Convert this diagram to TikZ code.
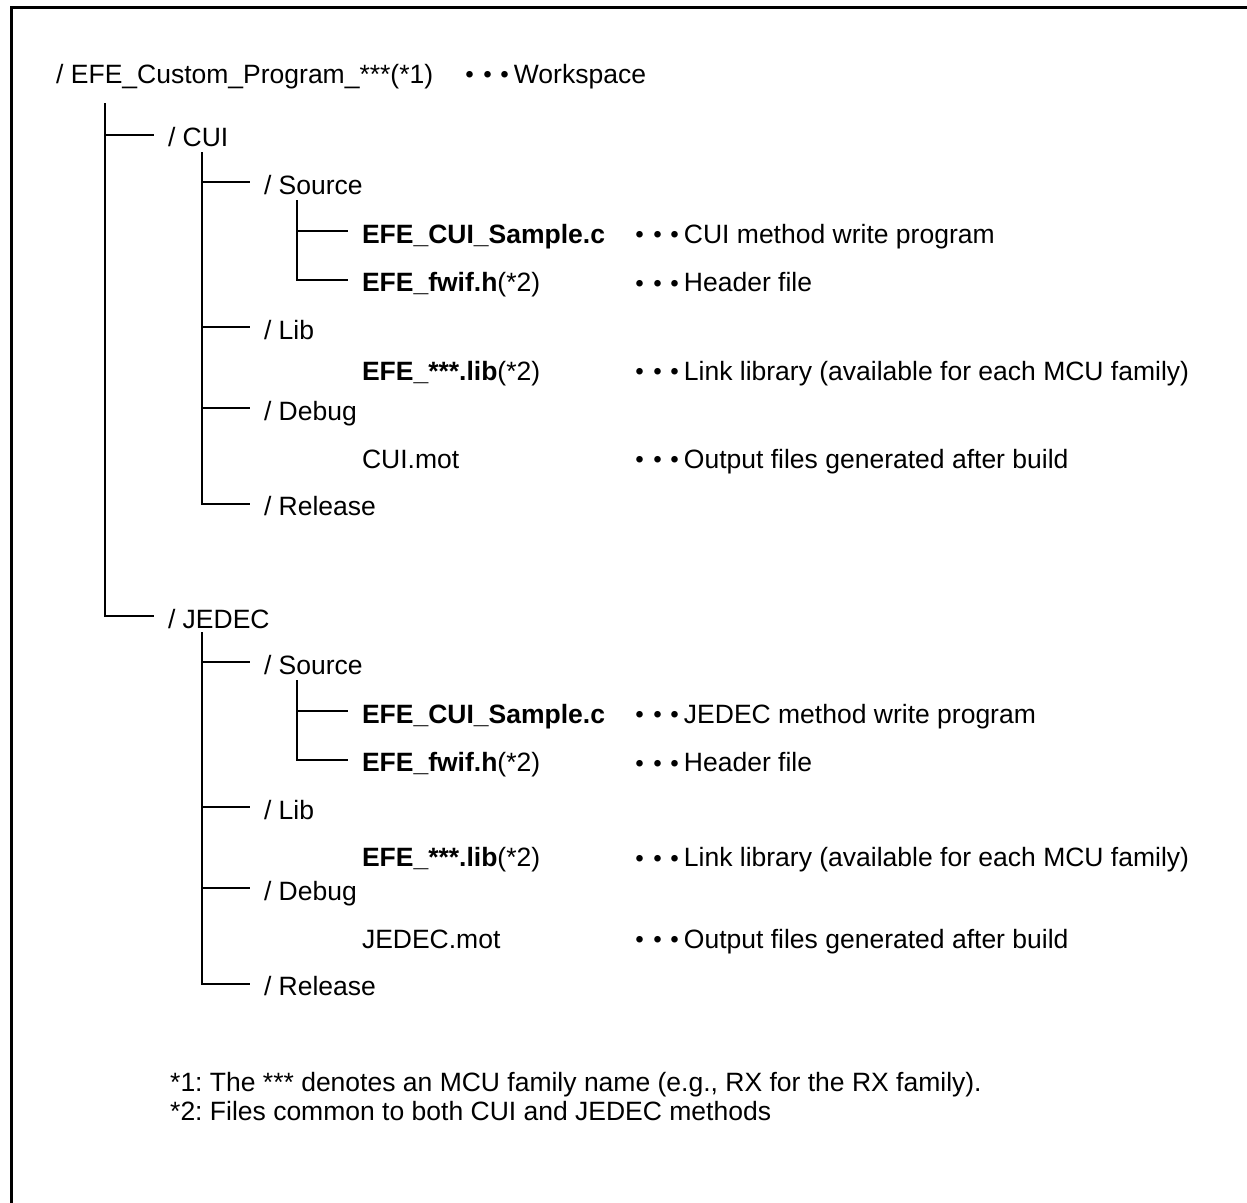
\documentclass[tikz,border=0pt]{standalone}
\usepackage{fontspec}
\setmainfont{Liberation Sans}
\newfontfamily\jpfont{Noto Sans CJK JP}
\newcommand\dotcell{\makebox[17.5pt]{\raisebox{-3.5pt}{\jpfont\fontsize{31}{31}\selectfont ・}}}
\newcommand\mydots{\dotcell\dotcell\dotcell}
\frenchspacing
\begin{document}
\begin{tikzpicture}[x=1pt,y=-1pt,
  every node/.style={font=\fontsize{26.5}{30}\selectfont, inner sep=0pt},
  item/.style={anchor=west, text height=24pt, text depth=0pt, outer xsep=14pt},
  note/.style={anchor=base west},
  tree/.style={line width=2pt},
  frame/.style={line width=3pt}]
\useasboundingbox (0,0) rectangle (1247,1202);
\fill[white] (-6,-6) rectangle (1253,1208);
\draw[frame] (11.5,1210) -- (11.5,7.5) -- (1255,7.5);

% root
\node[note] (root) at (56,83.3) {/ EFE\_Custom\_Program\_***(*1)};
\node[note] (rootd) at (461.25,83.3) {\mydots Workspace};

% CUI branch
\node[item] (cui) at (154,134.7) {/ CUI};
\node[item] (src1) at (250,182.3) {/ Source};
\node[item] (samp1) at (348,231.3) {\bfseries EFE\_CUI\_Sample.c};
\node[note] (samp1d) at (631.25,243.3) {\mydots CUI method write program};
\node[item] (fwif1) at (348,279.7) {\textbf{EFE\_fwif.h}(*2)};
\node[note] (fwif1d) at (631.25,291.7) {\mydots Header file};
\node[item] (lib1) at (250,327.3) {/ Lib};
\node[item] (libf1) at (348,368) {\textbf{EFE\_***.lib}(*2)};
\node[note] (libf1d) at (631.25,380) {\mydots Link library (available for each MCU family)};
\node[item] (dbg1) at (250,408) {/ Debug};
\node[item] (mot1) at (348,456.3) {CUI.mot};
\node[note] (mot1d) at (631.25,468.3) {\mydots Output files generated after build};
\node[item] (rel1) at (250,503.8) {/ Release};

% JEDEC branch
\node[item] (jedec) at (154,616.3) {/ JEDEC};
\node[item] (src2) at (250,662.3) {/ Source};
\node[item] (samp2) at (348,711.3) {\bfseries EFE\_CUI\_Sample.c};
\node[note] (samp2d) at (631.25,723.3) {\mydots JEDEC method write program};
\node[item] (fwif2) at (348,759.7) {\textbf{EFE\_fwif.h}(*2)};
\node[note] (fwif2d) at (631.25,771.7) {\mydots Header file};
\node[item] (lib2) at (250,807.3) {/ Lib};
\node[item] (libf2) at (348,854.7) {\textbf{EFE\_***.lib}(*2)};
\node[note] (libf2d) at (631.25,866.7) {\mydots Link library (available for each MCU family)};
\node[item] (dbg2) at (250,888) {/ Debug};
\node[item] (mot2) at (348,936.3) {JEDEC.mot};
\node[note] (mot2d) at (631.25,948.3) {\mydots Output files generated after build};
\node[item] (rel2) at (250,983.5) {/ Release};

% footnotes
\node[note] (fn1) at (170,1091.7) {*1: The *** denotes an MCU family name (e.g., RX for the RX family).};
\node[note] (fn2) at (170,1120) {*2: Files common to both CUI and JEDEC methods};

% trunks
\coordinate (t1) at (105,103);
\coordinate (t2) at (201.5,152);
\coordinate (t3) at (297,200);
\coordinate (t4) at (201.5,632);
\coordinate (t5) at (297,680);

\draw[tree] (t1) |- (cui.west);
\draw[tree] (t1) |- (jedec.west);
\draw[tree] (t2) |- (src1.west);
\draw[tree] (t2) |- (lib1.west);
\draw[tree] (t2) |- (dbg1.west);
\draw[tree] (t2) |- (rel1.west);
\draw[tree] (t3) |- (samp1.west);
\draw[tree] (t3) |- (fwif1.west);
\draw[tree] (t4) |- (src2.west);
\draw[tree] (t4) |- (lib2.west);
\draw[tree] (t4) |- (dbg2.west);
\draw[tree] (t4) |- (rel2.west);
\draw[tree] (t5) |- (samp2.west);
\draw[tree] (t5) |- (fwif2.west);
\end{tikzpicture}
\end{document}
